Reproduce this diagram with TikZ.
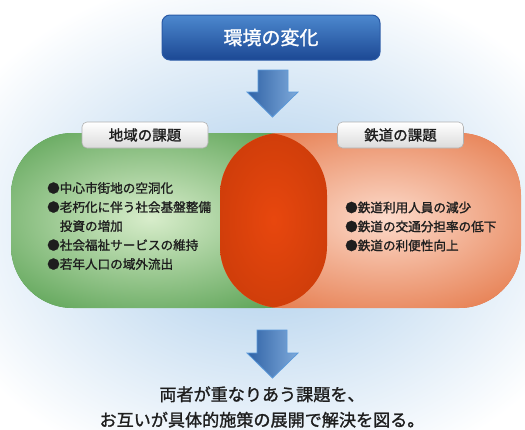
\documentclass[tikz,border=0pt]{standalone}
\usepackage{fontspec}
\newfontfamily\jp{Noto Sans CJK JP}
\newfontfamily\jpm[FakeBold=1.3]{Noto Sans CJK JP}
\definecolor{bgblue}{HTML}{A8CBEA}
\definecolor{greenin}{HTML}{D8EDCB}
\definecolor{greenout}{HTML}{3F923A}
\definecolor{orangein}{HTML}{FCDACA}
\definecolor{orangeout}{HTML}{E0642E}
\definecolor{redin}{HTML}{E8470E}
\definecolor{redout}{HTML}{C23808}
\definecolor{titletop}{HTML}{4C88CE}
\definecolor{titlebot}{HTML}{1C4894}
\definecolor{titleline}{HTML}{2A5AA6}
\definecolor{arrowdark}{HTML}{2F62A6}
\definecolor{arrowlight}{HTML}{7FAADA}
\definecolor{arrowline}{HTML}{5C9ADA}
\definecolor{txt}{HTML}{1E1E1E}
\begin{document}
\begin{tikzpicture}[x=1pt,y=-1pt,
  titlebox/.style={rounded corners=8pt, minimum width=218pt, minimum height=45pt,
    top color=titletop, bottom color=titlebot, draw=titleline, line width=1pt,
    text=white, font=\jpm\fontsize{19}{22}\selectfont},
  tab/.style={rounded corners=5pt, minimum width=126pt, minimum height=26pt,
    top color=white, bottom color=black!14, draw=black!30, line width=0.6pt,
    text=txt, font=\jpm\fontsize{14.5}{16}\selectfont},
  listtext/.style={anchor=north west, inner sep=0pt, align=left, text=txt,
    font=\jpm\fontsize{12.6}{19}\selectfont},
  bigtext/.style={inner sep=0pt, align=center, text=txt,
    font=\jpm\fontsize{17.1}{25.5}\selectfont},
  blockarrow/.style={left color=arrowdark, right color=arrowlight, draw=arrowline, line width=0.8pt, line join=miter},
  capL/.style={rounded corners=62pt},
]
\useasboundingbox (0,0) rectangle (525,429);
\fill[white] (0,0) rectangle (525,429);
\shade[inner color=bgblue, outer color=white] (265,228) ellipse [x radius=340pt, y radius=260pt];

% block arrows
\path[blockarrow] (258,70) -- (288,70) -- (288,92) -- (298,92) -- (272.5,117) -- (247,92) -- (258,92) -- cycle;
\path[blockarrow] (257,330) -- (287,330) -- (287,353) -- (298,353) -- (272.5,378) -- (247,353) -- (257,353) -- cycle;

% green capsule
\begin{scope}
  \clip[capL] (11,133) rectangle (327,308);
  \fill[greenout] (11,133) rectangle (327,308);
  \shade[inner color=greenin, outer color=greenout] (150,218) ellipse [x radius=255pt, y radius=140pt];
\end{scope}
% orange capsule
\begin{scope}
  \clip[capL] (220,133) rectangle (521,308);
  \fill[orangeout] (220,133) rectangle (521,308);
  \shade[inner color=orangein, outer color=orangeout] (385,218) ellipse [x radius=250pt, y radius=140pt];
\end{scope}
% overlap
\begin{scope}
  \clip[capL] (11,133) rectangle (327,308);
  \clip[capL] (220,133) rectangle (521,308);
  \shade[inner color=redin, outer color=redout] (273.5,220) ellipse [x radius=90pt, y radius=140pt];
\end{scope}

% title and tabs
\node[titlebox] (env) at (271,37.5) {環境の変化};
\node[tab] (tabL) at (145,135) {地域の課題};
\node[tab] (tabR) at (400.5,135) {鉄道の課題};

% lists
\node[listtext] (listL) at (47,182) {●中心市街地の空洞化\\●老朽化に伴う社会基盤整備\\\phantom{●}投資の増加\\●社会福祉サービスの維持\\●若年人口の域外流出};
\node[listtext] (listR) at (345,201.5) {●鉄道利用人員の減少\\●鉄道の交通分担率の低下\\●鉄道の利便性向上};

% bottom text
\node[bigtext] (concl) at (262,407) {両者が重なりあう課題を、\\お互いが具体的施策の展開で解決を図る。};
\end{tikzpicture}
\end{document}
